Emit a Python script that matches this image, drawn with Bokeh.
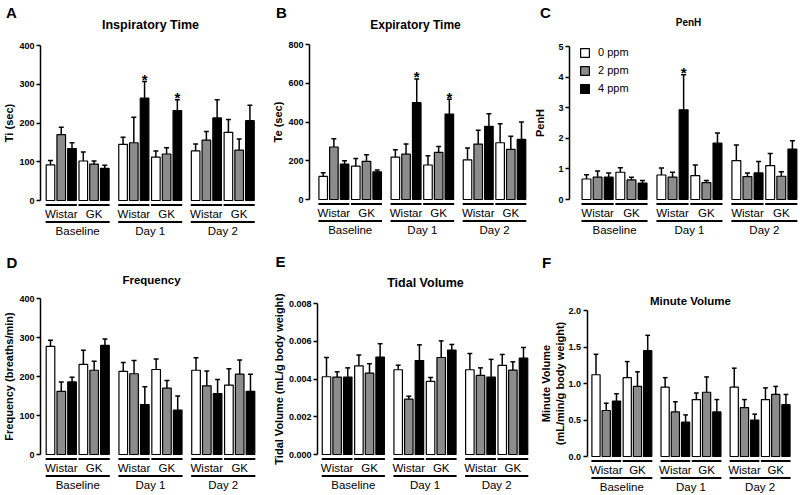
from bokeh.plotting import figure
from bokeh.models import Range1d, FixedTicker, LinearAxis, Legend, LegendItem, NumeralTickFormatter
from bokeh.embed import file_html
from bokeh.resources import INLINE
from bokeh.core.properties import value

# ---------------- data ----------------
days = ["Baseline", "Day 1", "Day 2"]
strains = ["Wistar", "GK"]
doses = ["0 ppm", "2 ppm", "4 ppm"]
# order of each series: for each day -> for each strain -> for each dose

ti_mean = [92, 170, 134, 102, 94, 83, 145, 149, 264, 112, 120, 232, 128, 156, 213, 176, 130, 206]
ti_err = [11, 19, 15, 23, 8, 8, 18, 66, 43, 16, 16, 28, 18, 22, 47, 33, 29, 40]
ti_sig = [0, 0, 0, 0, 0, 0, 0, 0, 1, 0, 0, 1, 0, 0, 0, 0, 0, 0]
ti_ticks = [0, 100, 200, 300, 400]
ti_labels = ["0", "100", "200", "300", "400"]

te_mean = [119, 271, 183, 172, 197, 143, 219, 234, 500, 178, 243, 441, 205, 286, 378, 293, 259, 310]
te_err = [19, 43, 17, 40, 34, 9, 38, 52, 122, 48, 31, 76, 61, 71, 65, 98, 67, 90]
te_sig = [0, 0, 0, 0, 0, 0, 0, 0, 1, 0, 0, 1, 0, 0, 0, 0, 0, 0]
te_ticks = [0, 200, 400, 600, 800]
te_labels = ["0", "200", "400", "600", "800"]

penh_mean = [0.67, 0.73, 0.73, 0.89, 0.64, 0.54, 0.80, 0.73, 2.93, 0.78, 0.55, 1.84, 1.27, 0.75, 0.87, 1.11, 0.76, 1.65]
penh_err = [0.14, 0.20, 0.14, 0.15, 0.09, 0.08, 0.23, 0.16, 1.15, 0.35, 0.07, 0.33, 0.51, 0.12, 0.37, 0.39, 0.15, 0.27]
penh_sig = [0, 0, 0, 0, 0, 0, 0, 0, 1, 0, 0, 0, 0, 0, 0, 0, 0, 0]
penh_ticks = [0, 1, 2, 3, 4, 5]
penh_labels = ["0", "1", "2", "3", "4", "5"]

freq_mean = [277, 162, 186, 231, 216, 280, 213, 207, 128, 218, 170, 114, 216, 176, 156, 178, 206, 162]
freq_err = [16, 24, 12, 36, 23, 16, 23, 34, 46, 27, 20, 36, 32, 38, 36, 42, 36, 44]
freq_sig = [0] * 18
freq_ticks = [0, 100, 200, 300, 400]
freq_labels = ["0", "100", "200", "300", "400"]

tv_mean = [0.00412, 0.00410, 0.00410, 0.00470, 0.00431, 0.00516, 0.00449, 0.00293, 0.00498,
           0.00387, 0.00514, 0.00553, 0.00449, 0.00419, 0.00410, 0.00472, 0.00447, 0.00511]
tv_err = [0.00102, 0.00028, 0.00049, 0.00057, 0.00050, 0.00071, 0.00024, 0.00016, 0.00083,
          0.00021, 0.00088, 0.00030, 0.00086, 0.00040, 0.00094, 0.00058, 0.00044, 0.00056]
tv_sig = [0] * 18
tv_ticks = [0, 0.002, 0.004, 0.006, 0.008]
tv_labels = ["0.000", "0.002", "0.004", "0.006", "0.008"]

mv_mean = [1.12, 0.63, 0.76, 1.08, 0.96, 1.45, 0.95, 0.61, 0.47, 0.78, 0.88, 0.61, 0.95, 0.67, 0.50, 0.78, 0.85, 0.71]
mv_err = [0.28, 0.10, 0.10, 0.22, 0.20, 0.21, 0.13, 0.14, 0.10, 0.09, 0.21, 0.17, 0.26, 0.11, 0.08, 0.16, 0.11, 0.14]
mv_sig = [0] * 18
mv_ticks = [0, 0.5, 1.0, 1.5, 2.0]
mv_labels = ["0.0", "0.5", "1.0", "1.5", "2.0"]

# ---------------- style / layout ----------------
W, H = 800, 495
FONT = "Liberation Sans"
FILLS = ["#ffffff", "#8c8c8c", "#000000"]
DAY_STEP = 6.75
STRAIN_STEP = 3.05
BAR_W = 0.8

p = figure(width=W, height=H, x_range=Range1d(0, W), y_range=Range1d(H, 0),
           x_axis_location=None, y_axis_location=None, toolbar_location=None,
           output_backend="svg", min_border=0)
p.title = None
p.outline_line_color = None
p.grid.visible = False
p.background_fill_color = "white"
p.border_fill_color = "white"
p.extra_x_ranges = {}
p.extra_y_ranges = {}


def pos(di, si, d):
    return di * DAY_STEP + si * STRAIN_STEP + d


def make_panel(name, letter, title, ylabel, means, errs, sig, ticks, tick_labels, fmt, g):
    ymax = ticks[-1]
    k = ymax / (g["y0"] - g["yt"])          # data units per pixel (vertical)
    ppu = g["ppu"]                          # pixels per x unit
    p.extra_x_ranges[name] = Range1d((0 - g["c0"]) / ppu, (W - g["c0"]) / ppu)
    p.extra_y_ranges[name] = Range1d(-(H - g["y0"]) * k, g["y0"] * k)
    kw = dict(x_range_name=name, y_range_name=name)

    def px(xpix):
        return (xpix - g["c0"]) / ppu

    def py(ypix):
        return (g["y0"] - ypix) * k

    ax = LinearAxis(x_range_name=name, y_range_name=name, fixed_location=px(g["ax"]),
                    bounds=(0, ymax), ticker=FixedTicker(ticks=ticks, minor_ticks=[]),
                    formatter=NumeralTickFormatter(format=fmt))
    ax.major_label_overrides = {t: l for t, l in zip(ticks, tick_labels)}
    ax.axis_line_width = 1.5
    ax.axis_line_color = "black"
    ax.major_tick_line_width = 1.5
    ax.major_tick_line_color = "black"
    ax.major_tick_out = 4
    ax.major_tick_in = 0
    ax.minor_tick_out = 0
    ax.minor_tick_in = 0
    ax.major_label_text_font = FONT
    ax.major_label_text_font_style = "bold"
    ax.major_label_text_font_size = "9px"
    ax.major_label_text_color = "black"
    ax.major_label_standoff = 2
    ax.axis_label = ylabel
    ax.axis_label_text_font = FONT
    ax.axis_label_text_font_style = "bold"
    ax.axis_label_text_font_size = "11px"
    ax.axis_label_text_color = "black"
    ax.axis_label_standoff = g["ls"]
    p.add_layout(ax, "left")

    rs = []
    for d in range(3):
        idx = [di * 6 + si * 3 + d for di in range(3) for si in range(2)]
        xs = [pos(di, si, d) for di in range(3) for si in range(2)]
        tops = [means[i] for i in idx]
        ends = [means[i] + errs[i] for i in idx]
        p.segment(x0=xs, y0=tops, x1=xs, y1=ends, line_color="black", line_width=1.5, **kw)
        p.segment(x0=[x - 0.23 for x in xs], y0=ends, x1=[x + 0.23 for x in xs], y1=ends,
                  line_color="black", line_width=1.5, **kw)
        r = p.vbar(x=xs, top=tops, bottom=0, width=BAR_W, fill_color=FILLS[d],
                   line_color="black", line_width=1.2, **kw)
        rs.append(r)
        sx = [x for x, i in zip(xs, idx) if sig[i]]
        sy = [means[i] + errs[i] + 2 * k for i in idx if sig[i]]
        if sx:
            p.text(x=sx, y=sy, text=["*"] * len(sx), text_font=value(FONT),
                   text_font_style="bold", text_font_size="15px", text_align="center",
                   text_baseline="middle", text_color="black", **kw)

    # group underlines and labels
    sx0, sx1, sxc, stxt = [], [], [], []
    dx0, dx1, dxc = [], [], []
    for di in range(3):
        for si in range(2):
            sx0.append(pos(di, si, 0) - 0.45)
            sx1.append(pos(di, si, 2) + 0.45)
            sxc.append(pos(di, si, 1))
            stxt.append(strains[si])
        dx0.append(pos(di, 0, 0) - 0.45)
        dx1.append(pos(di, 1, 2) + 0.45)
        dxc.append((pos(di, 0, 0) + pos(di, 1, 2)) / 2)
    p.segment(x0=sx0, y0=[-4.5 * k] * 6, x1=sx1, y1=[-4.5 * k] * 6,
              line_color="black", line_width=2, **kw)
    p.text(x=sxc, y=[-13.5 * k] * 6, text=stxt, text_font=value(FONT), text_font_size="11.5px",
           text_align="center", text_baseline="middle", text_color="black", **kw)
    p.segment(x0=dx0, y0=[-21.5 * k] * 3, x1=dx1, y1=[-21.5 * k] * 3,
              line_color="black", line_width=2, **kw)
    p.text(x=dxc, y=[-30.5 * k] * 3, text=days, text_font=value(FONT), text_font_size="11.5px",
           text_align="center", text_baseline="middle", text_color="black", **kw)

    # chart title and panel letter
    tx, ty, tsize = g["title"]
    p.text(x=[px(tx)], y=[py(ty)], text=[title], text_font=value(FONT), text_font_style="bold",
           text_font_size=tsize, text_align="center", text_baseline="middle",
           text_color="black", **kw)
    lx, ly = g["letter"]
    p.text(x=[px(lx)], y=[py(ly)], text=[letter], text_font=value(FONT), text_font_style="bold",
           text_font_size="15px", text_align="center", text_baseline="middle",
           text_color="black", **kw)
    return rs


GA = dict(ax=40, c0=50, ppu=10.75, yt=45, y0=200, title=(150, 24, "12.5px"), letter=(11, 12), ls=1)
GB = dict(ax=309, c0=322.7, ppu=10.69, yt=44, y0=199, title=(415, 24, "12px"), letter=(281, 12), ls=1)
GC = dict(ax=569, c0=586, ppu=11.1, yt=46, y0=199, title=(688, 22, "10px"), letter=(545, 12), ls=9)
GD = dict(ax=40, c0=50, ppu=10.78, yt=298, y0=454, title=(151, 279, "11.5px"), letter=(11.5, 262), ls=1)
GE = dict(ax=317, c0=326, ppu=10.62, yt=303, y0=454, title=(425, 282, "12.5px"), letter=(280, 261), ls=1)
GF = dict(ax=586.5, c0=595.5, ppu=10.24, yt=310, y0=456, title=(690, 300, "11.5px"), letter=(546, 262), ls=0)

make_panel("A", "A", "Inspiratory Time", "Ti (sec)", ti_mean, ti_err, ti_sig, ti_ticks, ti_labels, "0", GA)
make_panel("B", "B", "Expiratory Time", "Te (sec)", te_mean, te_err, te_sig, te_ticks, te_labels, "0", GB)
rC = make_panel("C", "C", "PenH", "PenH", penh_mean, penh_err, penh_sig, penh_ticks, penh_labels, "0", GC)
make_panel("D", "D", "Frequency", "Frequency (breaths/min)", freq_mean, freq_err, freq_sig, freq_ticks, freq_labels, "0", GD)
make_panel("E", "E", "Tidal Volume", "Tidal Volume (mL/g body weight)", tv_mean, tv_err, tv_sig, tv_ticks, tv_labels, "0.000", GE)
make_panel("F", "F", "Minute Volume", "Minute Volume\n(mL/min/g body weight)", mv_mean, mv_err, mv_sig, mv_ticks, mv_labels, "0.0", GF)

legend = Legend(items=[LegendItem(label=doses[i], renderers=[rC[i]]) for i in range(3)],
                location=(579, H - 94), orientation="vertical",
                background_fill_alpha=0, border_line_color=None,
                label_text_font=FONT, label_text_font_size="11px", label_text_color="black",
                glyph_width=11, glyph_height=11, label_height=11, spacing=6,
                padding=2, margin=0, label_standoff=8)
p.add_layout(legend)

open("out.html", "w").write(file_html(p, INLINE))
